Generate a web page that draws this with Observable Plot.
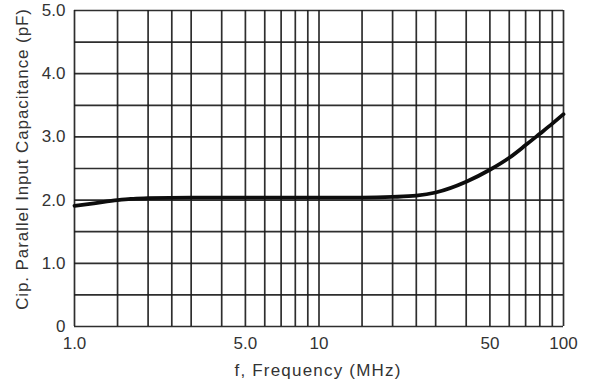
<!DOCTYPE html>
<html>
<head>
<meta charset="utf-8">
<script src="https://cdn.jsdelivr.net/npm/d3@7"></script>
<script src="https://cdn.jsdelivr.net/npm/@observablehq/plot@0.6"></script>
<style>
  html, body { margin: 0; padding: 0; background: #fff; }
  #chart svg { display: block; }
</style>
</head>
<body>
<div id="chart"></div>
<script>
// Parallel input capacitance vs. frequency
const freqMHz = [1, 1.2, 1.5, 1.7, 2, 3, 5, 10, 15, 20, 25, 30, 40, 50, 60, 70, 80, 90, 100];
const capPF   = [1.91, 1.95, 2.0, 2.02, 2.03, 2.04, 2.04, 2.04, 2.04, 2.05, 2.07, 2.12, 2.29, 2.48, 2.67, 2.87, 3.05, 3.21, 3.36];

// Log-paper grid lines
const gridFreq = [1, 1.5, 2, 2.5, 3, 4, 5, 6, 7, 8, 9, 10, 15, 20, 25, 30, 40, 50, 60, 70, 80, 90, 100];
const gridCap  = [0, 0.5, 1, 1.5, 2, 2.5, 3, 3.5, 4, 4.5, 5];

// Labelled ticks
const xTicks = [1, 5, 10, 50, 100];
const xTickLabels = ["1.0", "5.0", "10", "50", "100"];
const yTicks = [0, 1, 2, 3, 4, 5];
const yTickLabels = ["0", "1.0", "2.0", "3.0", "4.0", "5.0"];

const xLabel = "f, Frequency (MHz)";
const yLabel = "Cip. Parallel Input Capacitance (pF)";

const data = freqMHz.map((f, i) => ({f, c: capPF[i]}));

const chart = Plot.plot({
  width: 589,
  height: 383,
  marginLeft: 74,
  marginRight: 26,
  marginTop: 10,
  marginBottom: 57,
  style: {fontFamily: "'Liberation Sans', Arial, sans-serif", background: "#fff"},
  x: {type: "log", domain: [1, 100], axis: null},
  y: {domain: [0, 5], axis: null},
  marks: [
    Plot.ruleX(gridFreq, {stroke: "#1c1c1c", strokeWidth: 1.7, strokeOpacity: 0.92}),
    Plot.ruleY(gridCap, {stroke: "#1c1c1c", strokeWidth: 1.7, strokeOpacity: 0.92}),
    Plot.line(data, {x: "f", y: "c", curve: "monotone-x", stroke: "#0d0d0d", strokeWidth: 3.8}),
    // tick labels
    Plot.text(xTicks, {
      x: (d) => d, y: 0, dy: 17, text: (d, i) => xTickLabels[i],
      fontSize: 17, fill: "#333", textAnchor: "middle"
    }),
    Plot.text(yTicks, {
      x: 1, y: (d) => d, dx: -9, text: (d, i) => yTickLabels[i],
      fontSize: 17, fill: "#333", textAnchor: "end"
    })
  ]
});

const svg = d3.select(chart);
// axis titles
svg.append("text")
  .attr("x", 318).attr("y", 376)
  .attr("text-anchor", "middle")
  .attr("font-size", 17).attr("letter-spacing", 1.2)
  .attr("fill", "#333")
  .text(xLabel);
svg.append("text")
  .attr("transform", "translate(28,159) rotate(-90)")
  .attr("text-anchor", "middle")
  .attr("font-size", 17).attr("letter-spacing", 0.9)
  .attr("fill", "#333")
  .text(yLabel);

document.getElementById("chart").appendChild(chart);
</script>
</body>
</html>
